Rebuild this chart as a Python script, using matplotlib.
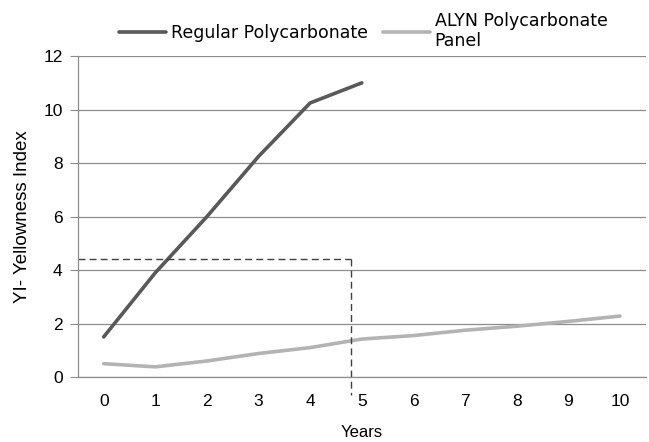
import matplotlib
matplotlib.use("Agg")
import matplotlib.pyplot as plt

plt.rcParams['font.family'] = ['Liberation Sans', 'DejaVu Sans']

years = list(range(11))
regular = [1.5, 3.9, 6.0, 8.25, 10.25, 11.0]
alyn = [0.5, 0.38, 0.6, 0.88, 1.1, 1.42, 1.55, 1.75, 1.9, 2.08, 2.28]
ref_year = 4.8
ref_yi = 4.43

fig = plt.figure(figsize=(6.49, 4.42), dpi=100)
ax = fig.add_axes([0.120, 0.147, 0.875, 0.726])

ax.plot(years[:len(regular)], regular, color="#595959", lw=2.6,
        label="Regular Polycarbonate", solid_capstyle="round")
ax.plot(years, alyn, color="#b3b3b3", lw=2.6,
        label="ALYN Polycarbonate\nPanel", solid_capstyle="round")

# dashed guide lines
ax.plot([-0.5, ref_year], [ref_yi, ref_yi], color="#404040", lw=1, ls=(0, (5, 3)))
ax.plot([ref_year, ref_year], [ref_yi, -0.68], color="#404040", lw=1,
        ls=(0, (5, 3)), clip_on=False)

ax.set_xlim(-0.5, 10.5)
ax.set_ylim(0, 12)
ax.set_xticks(years)
ax.set_yticks(range(0, 13, 2))
ax.grid(axis="y", color="#8c8c8c", lw=0.9)
ax.set_axisbelow(True)
for s in ["top", "right"]:
    ax.spines[s].set_visible(False)
for s in ["left", "bottom"]:
    ax.spines[s].set_color("#8c8c8c")
    ax.spines[s].set_linewidth(0.9)
ax.tick_params(axis="y", length=6, color="#8c8c8c", labelsize=12.5, pad=5)
ax.tick_params(axis="x", length=0, labelsize=12.5, pad=12)

ax.set_xlabel("Years", fontsize=12, labelpad=12)
ax.set_ylabel("YI- Yellowness Index", fontsize=13.5, labelpad=9)

fig.legend(loc="center", bbox_to_anchor=(0.56, 0.93), ncol=2, frameon=False,
           prop={"family": "DejaVu Sans", "size": 12.5},
           handlelength=2.7, handletextpad=0.25, columnspacing=0.9,
           labelspacing=0.1)

fig.savefig("out.png", dpi=100)
